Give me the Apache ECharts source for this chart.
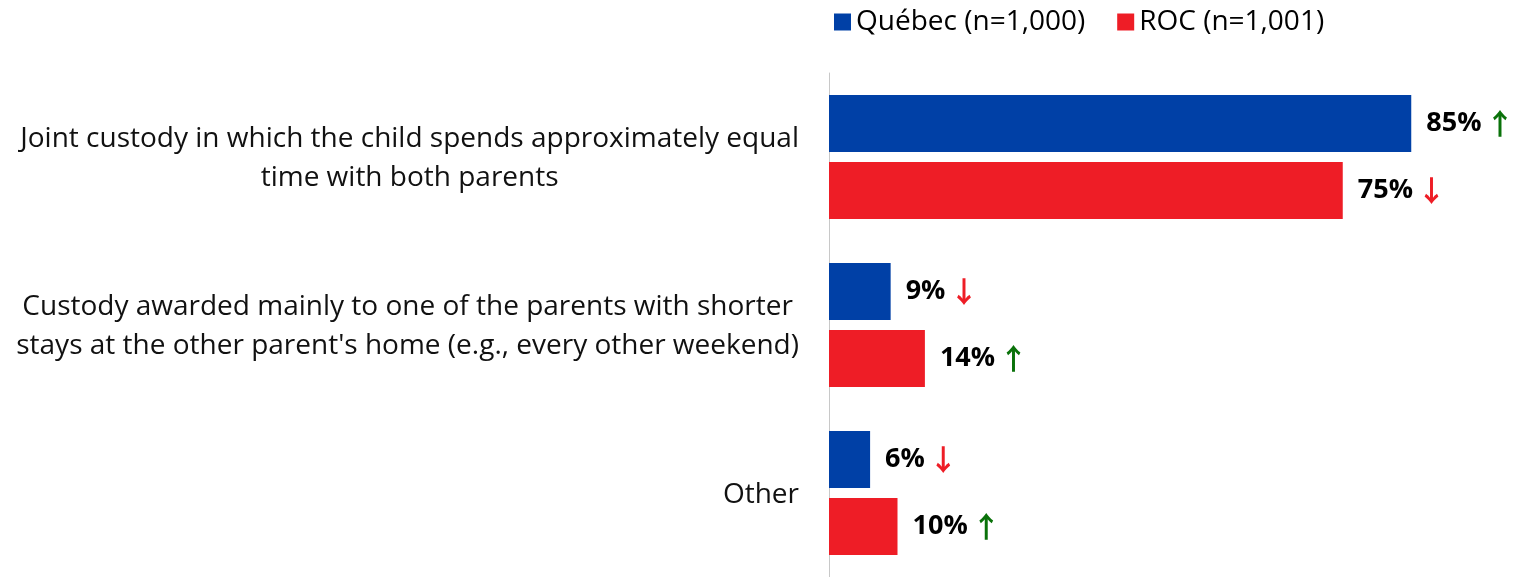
<!DOCTYPE html>
<html>
<head>
<meta charset="utf-8">
<script src="https://cdn.jsdelivr.net/npm/echarts@6/dist/echarts.min.js"></script>
<style>
html,body{margin:0;padding:0;background:#fff;}
#chart{width:1524px;height:577px;}
</style>
</head>
<body>
<div id="chart"></div>
<script>
const categories = [
  'Joint custody in which the child spends approximately equal\ntime with both parents',
  "Custody awarded mainly to one of the parents with shorter\nstays at the other parent's home (e.g., every other weekend)",
  'Other'
];
const seriesNames = ['Québec (n=1,000)', 'ROC (n=1,001)'];
const quebecValues = [85, 9, 6];
const rocValues = [75, 14, 10];
const quebecTrend = ['up', 'down', 'down'];
const rocTrend = ['down', 'up', 'up'];

const FONT = '"Open Sans", sans-serif';
const BLUE = '#0040A6';
const RED = '#EE1D26';

function labelFor(trend) {
  return {
    show: true,
    position: 'right',
    distance: 15,
    formatter: function (p) {
      const t = trend[p.dataIndex];
      return '{v|' + p.value + '%}' + (t === 'up' ? '{up|↑}' : '{dn|↓}');
    },
    rich: {
      v: {fontFamily: FONT, fontWeight: 'bold', fontSize: 27, color: '#000'},
      up: {fontFamily: '"Noto Sans CJK JP"', fontWeight: 'bold', fontSize: 29, color: '#0A720A', padding: [0, 0, 0, 4]},
      dn: {fontFamily: '"Noto Sans CJK JP"', fontWeight: 'bold', fontSize: 29, color: '#EE1D26', padding: [0, 0, 0, 4]}
    }
  };
}

const chart = echarts.init(document.getElementById('chart'));
chart.setOption({
  animation: false,
  legend: {
    data: seriesNames,
    left: 834,
    top: 8,
    padding: 0,
    itemWidth: 17,
    itemHeight: 17,
    itemGap: 32,
    icon: 'rect',
    textStyle: {fontFamily: FONT, fontSize: 28, color: '#000'}
  },
  grid: {left: 829, right: 10, top: 73, height: 507},
  xAxis: {
    type: 'value', min: 0, max: 100, show: false
  },
  yAxis: {
    type: 'category',
    inverse: true,
    data: categories,
    axisLine: {show: true, lineStyle: {color: '#C8C8C8', width: 1}},
    axisTick: {show: false},
    axisLabel: {
      margin: 30,
      formatter: function (v) {
        return v.split('\n').map(l => '{c|' + l + '}').join('\n');
      },
      rich: {
        c: {align: 'center', fontFamily: FONT, fontSize: 28, lineHeight: 39, color: '#111', padding: [4, 0, 0, 0]}
      }
    }
  },
  series: [
    {name: seriesNames[0], type: 'bar', data: quebecValues, itemStyle: {color: BLUE},
     barWidth: 57, barGap: '17.5%', barCategoryGap: '26.6%', label: labelFor(quebecTrend)},
    {name: seriesNames[1], type: 'bar', data: rocValues, itemStyle: {color: RED},
     barWidth: 57, barGap: '17.5%', label: labelFor(rocTrend)}
  ]
});
</script>
</body>
</html>
